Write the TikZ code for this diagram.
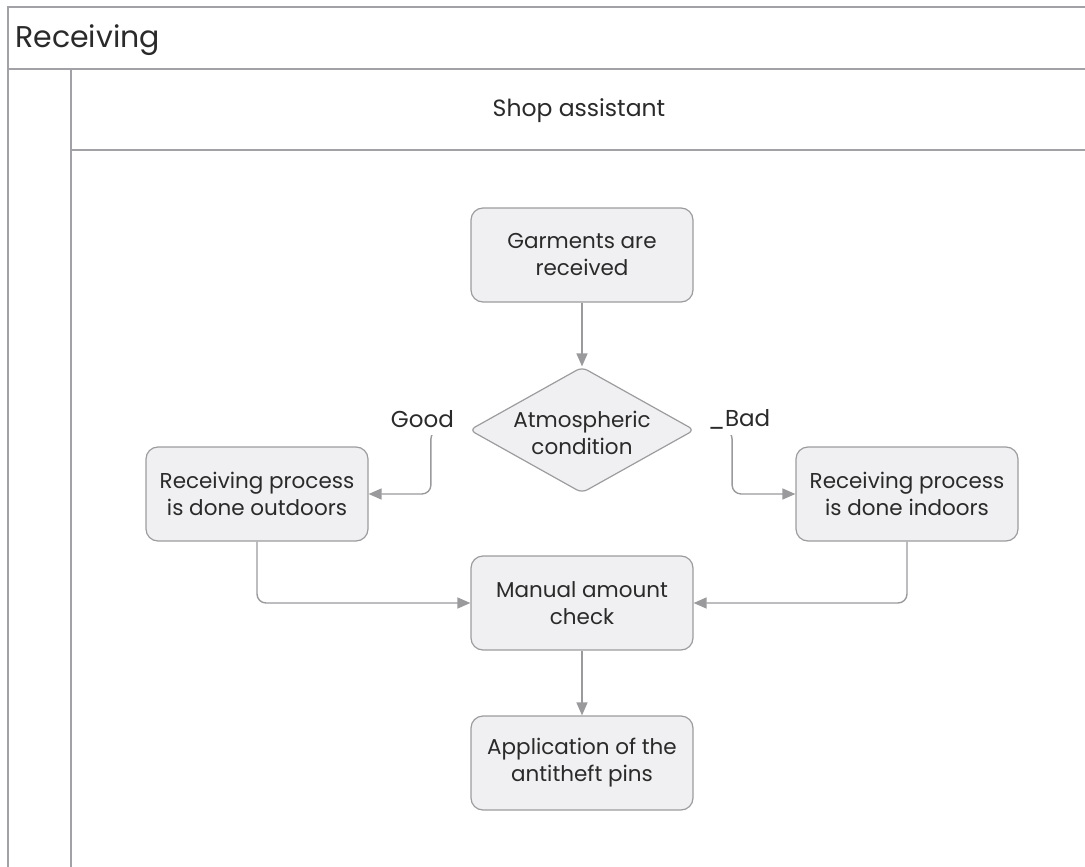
\documentclass[tikz,border=0pt]{standalone}
\usepackage{fontspec}
\setmainfont{Poppins}
\usetikzlibrary{shapes.geometric,arrows.meta,backgrounds}
\definecolor{lanecol}{HTML}{A2A2A6}
\definecolor{boxfill}{HTML}{F0F0F2}
\definecolor{boxdraw}{HTML}{9C9C9E}
\definecolor{txt}{HTML}{2A2A2A}
\definecolor{conn}{HTML}{9A9A9C}
\tikzset{
  lane/.style={draw=lanecol, line width=1.8pt},
  proc/.style={rectangle, rounded corners=12pt, minimum width=222pt, minimum height=94pt,
    fill=boxfill, draw=boxdraw, line width=1.2pt, text=txt, align=center, inner sep=0pt,
    font=\fontsize{21.5}{27}\selectfont},
  decis/.style={diamond, rounded corners=6pt, minimum width=225pt, minimum height=126pt,
    fill=boxfill, draw=boxdraw, line width=1.2pt, inner sep=0pt},
  dtext/.style={text=txt, align=center, font=\fontsize{21.5}{27}\selectfont},
  lbl/.style={text=txt, fill=white, inner sep=2pt, font=\fontsize{23}{26}\selectfont},
  flow/.style={draw=conn, line width=1.4pt, rounded corners=9pt,
    -{Triangle[length=13pt,width=11pt]}},
  hdr/.style={text=txt, inner sep=0pt},
}
\begin{document}
\begin{tikzpicture}[x=1pt,y=-1pt]
\useasboundingbox (0,0) rectangle (1085,867);
% pool / lane frame
\draw[lane] (1085,7) -- (8,7) -- (8,867);
\draw[lane] (8,69) -- (1085,69);
\draw[lane] (71,69) -- (71,867);
\draw[lane] (71,150) -- (1085,150);
\node[hdr, anchor=west, font=\fontsize{30}{36}\selectfont] (pool) at (15,40) {Receiving};
\node[hdr, font=\fontsize{23.5}{27}\selectfont] (lanet) at (579,111) {Shop assistant};
% nodes
\node[proc] (g) at (582,255) {Garments are\\received};
\node[decis] (dia) at (582,430) {};
\node[dtext] (diat) at (582,433) {Atmospheric\\condition};
\node[proc] (outL) at (257,494) {Receiving process\\is done outdoors};
\node[proc] (inR) at (907,494) {Receiving process\\is done indoors};
\node[proc] (man) at (582,603) {Manual amount\\check};
\node[proc] (app) at (582,763) {Application of the\\antitheft pins};
\begin{pgfonlayer}{background}
% connectors
\draw[flow] (g.south) -- (dia.north);
\draw[flow] (dia.west) -- ++(-38,0) |- (outL.east);
\draw[flow] (dia.east) -- ++(37,0) |- (inR.west);
\draw[flow] (outL.south) |- (man.west);
\draw[flow] (inR.south) |- (man.east);
\draw[flow] (man.south) -- (app.north);
% branch labels
\node[lbl, minimum height=32pt, anchor=east] (good) at (480,419) {Good\hspace*{24pt}};
\node[lbl, minimum height=32pt, anchor=west] (bad) at (688,419) {\hspace*{18pt}\_Bad\hspace*{2pt}};
\end{pgfonlayer}
\end{tikzpicture}
\end{document}
